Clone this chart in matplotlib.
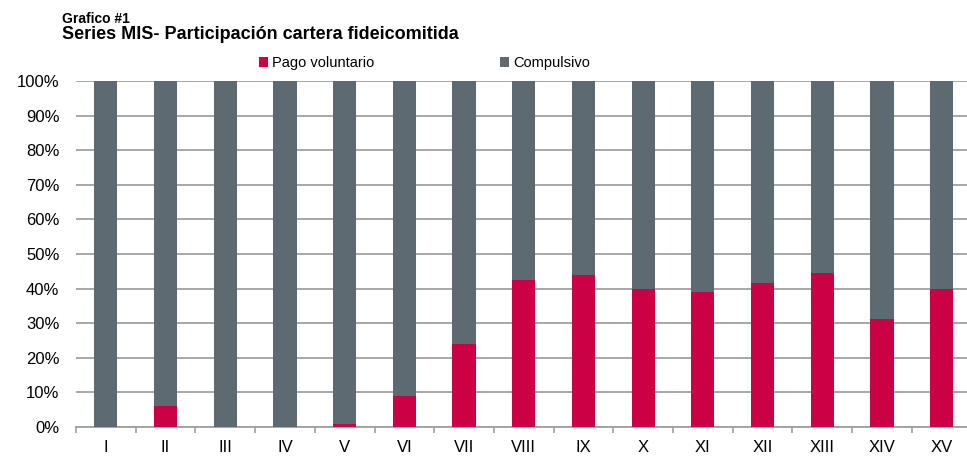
import matplotlib.pyplot as plt
import matplotlib.ticker as mticker
import numpy as np

plt.rcParams['font.family'] = ['Liberation Sans', 'DejaVu Sans']

series = ['I', 'II', 'III', 'IV', 'V', 'VI', 'VII', 'VIII', 'IX', 'X',
          'XI', 'XII', 'XIII', 'XIV', 'XV']
voluntario = [0.0, 6.2, 0.0, 0.0, 0.8, 9.0, 23.9, 42.6, 43.8, 39.8,
              39.0, 41.5, 44.4, 31.2, 40.0]
compulsivo = [100 - v for v in voluntario]

red = '#CC0044'
gray = '#5E6A71'
grid_c = '#A0A0A0'

fig = plt.figure(figsize=(9.67, 4.57), dpi=100)
ax = fig.add_axes([76/967, 1-427/457, 895.5/967, 346/457])

x = np.arange(len(series))
ax.bar(x, voluntario, width=0.39, color=red, zorder=3, label='Pago voluntario')
ax.bar(x, compulsivo, bottom=voluntario, width=0.39, color=gray, zorder=3,
       label='Compulsivo')

ax.set_xlim(-0.5, len(series) - 0.5)
ax.set_ylim(0, 100)
ax.set_yticks(np.arange(0, 101, 10))
ax.yaxis.set_major_formatter(mticker.FuncFormatter(lambda v, p: f'{v:.0f}%'))
ax.grid(axis='y', color=grid_c, linewidth=1.3, zorder=0)
ax.set_axisbelow(True)

ax.set_xticks(x)
ax.set_xticklabels(series)
ax.set_xticks(np.arange(-0.5, len(series), 1), minor=True)
ax.tick_params(axis='x', which='major', length=0, pad=9, labelsize=12)
ax.tick_params(axis='x', which='minor', length=4, width=1.2, color=grid_c)
ax.tick_params(axis='y', length=0, pad=12, labelsize=12)

for s in ['top', 'right', 'left']:
    ax.spines[s].set_visible(False)
ax.spines['bottom'].set_color(grid_c)
ax.spines['bottom'].set_linewidth(1.3)

fig.text(62/967, 1-23/457, 'Grafico #1', fontsize=10, fontweight='bold',
         va='baseline')
fig.text(62/967, 1-39/457, 'Series MIS- Participación cartera fideicomitida',
         fontsize=13, fontweight='bold', va='baseline')

fig.legend(loc='lower left', bbox_to_anchor=(259/967, 1-70/457), ncol=2,
           frameon=False, fontsize=10.5, handlelength=0.65, handleheight=0.65,
           handletextpad=0.25, columnspacing=8.6, borderpad=0, borderaxespad=0)

fig.savefig('out.png', dpi=100)
